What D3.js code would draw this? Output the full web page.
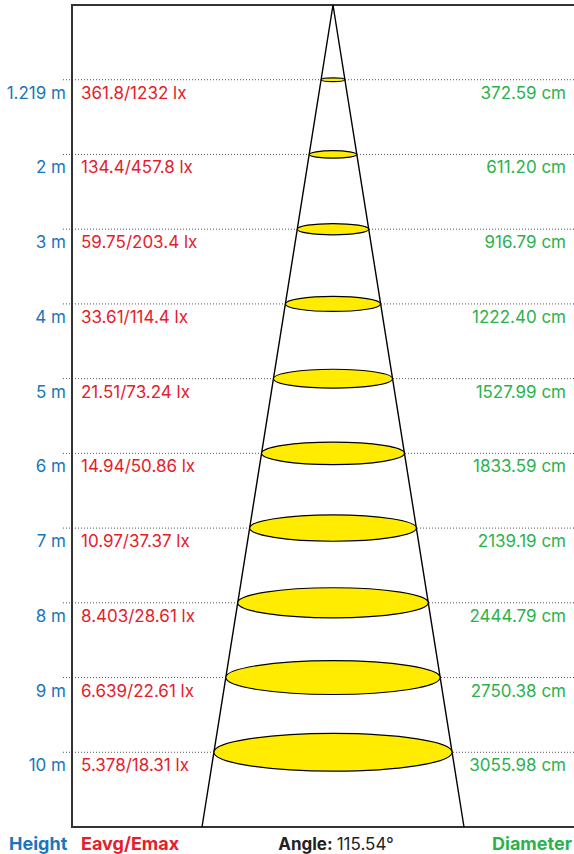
<!DOCTYPE html>
<html>
<head>
<meta charset="utf-8">
<script src="https://cdn.jsdelivr.net/npm/d3@7"></script>
<style>
  body { margin: 0; background: #fff; }
  text { font-family: Inter, "Noto Sans", sans-serif; }
</style>
</head>
<body>
<div class="cone-chart"></div>
<script>
var heights = ["1.219 m", "2 m", "3 m", "4 m", "5 m", "6 m", "7 m", "8 m", "9 m", "10 m"];
var illum = ["361.8/1232 lx", "134.4/457.8 lx", "59.75/203.4 lx", "33.61/114.4 lx", "21.51/73.24 lx",
	"14.94/50.86 lx", "10.97/37.37 lx", "8.403/28.61 lx", "6.639/22.61 lx", "5.378/18.31 lx"];
var diameters = ["372.59 cm", "611.20 cm", "916.79 cm", "1222.40 cm", "1527.99 cm",
	"1833.59 cm", "2139.19 cm", "2444.79 cm", "2750.38 cm", "3055.98 cm"];
var angleLabel = "115.54°";

var W = 574, H = 854;
var frame = { left: 72, top: 5, bottom: 827, apex: 333 };

var BLUE = "#1b75bb", RED = "#e5202a", GREEN = "#2bb24c", YELLOW = "#ffec00";

var svg = d3.select(".cone-chart").append("svg")
	.attr("width", W).attr("height", H);

// rows are evenly spaced, one slot per height
var y = d3.scaleLinear()
	.domain([-1, heights.length])
	.range([frame.top, frame.bottom]);

// cone half width grows linearly from the apex
var spread = d3.scaleLinear()
	.domain([frame.top, frame.bottom])
	.range([0, 131]);

var rows = heights.map(function (h, i) {
	return { h: h, e: illum[i], d: diameters[i], i: i };
});

// dotted guide lines
svg.selectAll(".guide")
	.data(rows)
	.enter().append("line")
	.attr("x1", 63).attr("x2", W)
	.attr("y1", function (d) { return y(d.i); })
	.attr("y2", function (d) { return y(d.i); })
	.attr("stroke", "#555")
	.attr("stroke-width", 1)
	.attr("stroke-dasharray", "1,2");

// frame
svg.append("path")
	.attr("d", "M" + W + "," + frame.top + "H" + frame.left + "V" + frame.bottom + "H" + W)
	.attr("fill", "none")
	.attr("stroke", "#333")
	.attr("stroke-width", 2);

// cone
var bw = spread(frame.bottom);
svg.append("path")
	.attr("d", "M" + (frame.apex - bw) + "," + frame.bottom + "L" + frame.apex + "," + frame.top + "L" + (frame.apex + bw) + "," + frame.bottom)
	.attr("fill", "none")
	.attr("stroke", "#000")
	.attr("stroke-width", 1.4);

// light spots
svg.selectAll(".spot")
	.data(rows)
	.enter().append("ellipse")
	.attr("cx", frame.apex)
	.attr("cy", function (d) { return y(d.i); })
	.attr("rx", function (d) { return spread(y(d.i)); })
	.attr("ry", function (d) { return spread(y(d.i)) * 0.158; })
	.attr("fill", YELLOW)
	.attr("stroke", "#000")
	.attr("stroke-width", 1.2);

// labels
svg.selectAll(".hlab")
	.data(rows)
	.enter().append("text")
	.attr("x", 66)
	.attr("y", function (d) { return y(d.i) + 19; })
	.attr("text-anchor", "end")
	.attr("fill", BLUE)
	.style("font-size", "17px")
	.text(function (d) { return d.h; });

svg.selectAll(".elab")
	.data(rows)
	.enter().append("text")
	.attr("x", 81)
	.attr("y", function (d) { return y(d.i) + 19; })
	.attr("fill", RED)
	.style("font-size", "17px")
	.text(function (d) { return d.e; });

svg.selectAll(".dlab")
	.data(rows)
	.enter().append("text")
	.attr("x", 566)
	.attr("y", function (d) { return y(d.i) + 19; })
	.attr("text-anchor", "end")
	.attr("fill", GREEN)
	.style("font-size", "17px")
	.text(function (d) { return d.d; });

// footer
var fy = 850;
svg.append("text").attr("x", 9).attr("y", fy).attr("fill", BLUE)
	.style("font-size", "18px").style("font-weight", "bold").text("Height");
svg.append("text").attr("x", 81).attr("y", fy).attr("fill", RED)
	.style("font-size", "18px").style("font-weight", "bold").text("Eavg/Emax");
var ang = svg.append("text").attr("x", 336).attr("y", fy).attr("text-anchor", "middle")
	.attr("fill", "#222").style("font-size", "17px");
ang.append("tspan").style("font-weight", "bold").text("Angle: ");
ang.append("tspan").text(angleLabel);
svg.append("text").attr("x", 572).attr("y", fy).attr("text-anchor", "end").attr("fill", GREEN)
	.style("font-size", "18px").style("font-weight", "bold").text("Diameter");
</script>
</body>
</html>
